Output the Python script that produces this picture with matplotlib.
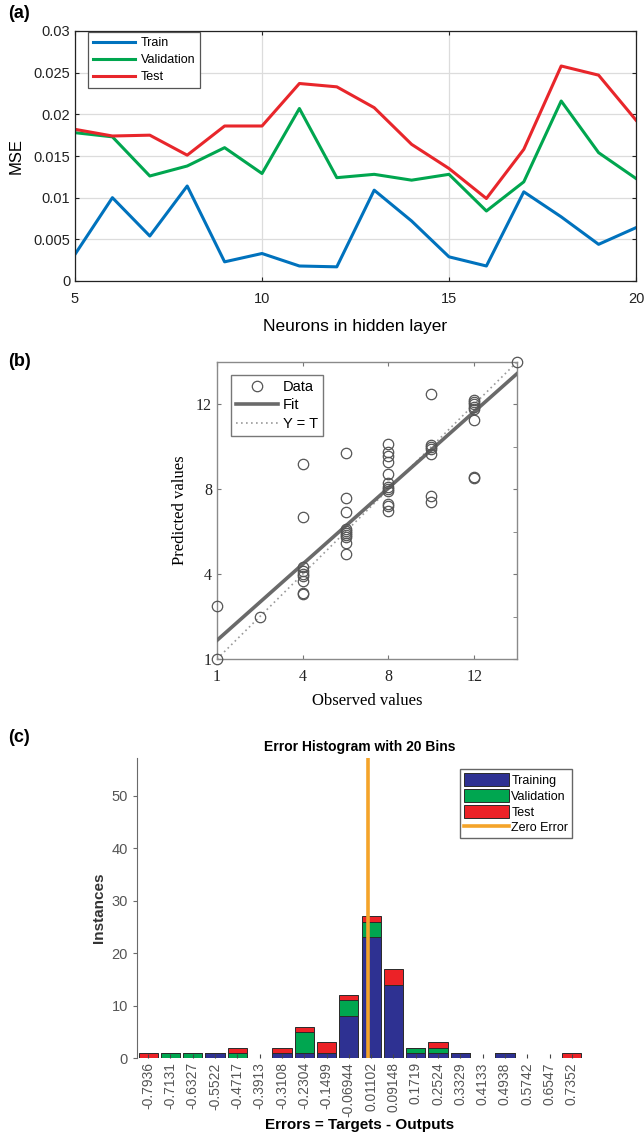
import numpy as np
import matplotlib
matplotlib.use("Agg")
import matplotlib.pyplot as plt
from matplotlib.patches import Patch
from matplotlib.lines import Line2D

# ---------------- data: panel (a) ----------------
neurons = [5, 6, 7, 8, 9, 10, 11, 12, 13, 14, 15, 16, 17, 18, 19, 20]
mse_train = [0.0032, 0.0100, 0.0054, 0.0114, 0.0023, 0.0033, 0.0018, 0.0017,
             0.0109, 0.0072, 0.0029, 0.0018, 0.0107, 0.0077, 0.0044, 0.0064]
mse_val = [0.0178, 0.0173, 0.0126, 0.0138, 0.0160, 0.0129, 0.0207, 0.0124,
           0.0128, 0.0121, 0.0128, 0.0084, 0.0119, 0.0216, 0.0154, 0.0123]
mse_test = [0.0182, 0.0174, 0.0175, 0.0151, 0.0186, 0.0186, 0.0237, 0.0233,
            0.0208, 0.0164, 0.0135, 0.0099, 0.0158, 0.0258, 0.0247, 0.0193]

# ---------------- data: panel (b) ----------------
obs = [0, 0, 2,
       4, 4, 4, 4, 4, 4, 4, 4, 4,
       6, 6, 6, 6, 6, 6, 6, 6, 6, 6,
       8, 8, 8, 8, 8, 8, 8, 8, 8, 8, 8, 8,
       10, 10, 10, 10, 10, 10, 10,
       12, 12, 12, 12, 12, 12, 12, 12,
       14]
pred = [0.0, 2.5, 2.0,
        9.2, 6.7, 4.35, 4.15, 4.0, 3.9, 3.7, 3.12, 3.08,
        9.7, 7.6, 6.95, 6.15, 6.05, 5.95, 5.85, 5.75, 5.48, 4.97,
        10.15, 9.78, 9.56, 9.3, 8.7, 8.3, 8.1, 8.0, 7.9, 7.3, 7.2, 6.98,
        12.5, 10.1, 10.0, 9.9, 9.65, 7.7, 7.42,
        12.2, 12.1, 12.0, 11.9, 11.8, 11.25, 8.6, 8.55,
        14.0]
fit_x = [0, 14]
fit_y = [0.88, 13.45]
ident_x = [0, 14]
ident_y = [0, 14]
b_tick_pos = [0, 4, 8, 12]
b_tick_lab = ["1", "4", "8", "12"]

# ---------------- data: panel (c) ----------------
bin_labels = ["-0.7936", "-0.7131", "-0.6327", "-0.5522", "-0.4717", "-0.3913",
              "-0.3108", "-0.2304", "-0.1499", "-0.06944", "0.01102", "0.09148",
              "0.1719", "0.2524", "0.3329", "0.4133", "0.4938", "0.5742",
              "0.6547", "0.7352"]
bin_centers = [float(s) for s in bin_labels]
h_train = [0, 0, 0, 1, 0, 0, 1, 1, 1, 8, 23, 14, 1, 1, 1, 0, 1, 0, 0, 0]
h_val   = [0, 1, 1, 0, 1, 0, 0, 4, 0, 3, 3, 0, 1, 1, 0, 0, 0, 0, 0, 0]
h_test  = [1, 0, 0, 0, 1, 0, 1, 1, 2, 1, 1, 3, 0, 1, 0, 0, 0, 0, 0, 1]

W, H = 644, 1134
fig = plt.figure(figsize=(W / 100, H / 100), dpi=100)

def rect(l, t, r, b):
    return [l / W, 1 - b / H, (r - l) / W, (b - t) / H]

SANS = ["Liberation Sans", "DejaVu Sans"]
SERIF = ["Liberation Serif", "DejaVu Serif"]

# ================= panel (a) =================
ax = fig.add_axes(rect(75, 31, 636, 281))
ax.plot(neurons, mse_train, color="#0072BD", lw=2.2, label="Train")
ax.plot(neurons, mse_val, color="#00A64F", lw=2.2, label="Validation")
ax.plot(neurons, mse_test, color="#E8262B", lw=2.2, label="Test")
ax.set_xlim(5, 20)
ax.set_ylim(0, 0.03)
ax.set_xticks([5, 10, 15, 20])
ax.set_yticks([0, 0.005, 0.01, 0.015, 0.02, 0.025, 0.03])
ax.set_yticklabels(["0", "0.005", "0.01", "0.015", "0.02", "0.025", "0.03"])
ax.grid(True, color="#dcdcdc", lw=0.9)
ax.set_axisbelow(True)
ax.tick_params(direction="in", top=True, right=True, length=3, labelsize=10.5,
               colors="#222222")
ax.tick_params(axis="x", pad=8)
for lab in ax.get_xticklabels() + ax.get_yticklabels():
    lab.set_family(SANS)
for s in ax.spines.values():
    s.set_color("#222222")
    s.set_linewidth(0.9)
ax.set_xlabel("Neurons in hidden layer", family=SANS, fontsize=12.5, labelpad=9)
ax.set_ylabel("MSE", family=SANS, fontsize=12, labelpad=7)
leg = ax.legend(loc="upper left", bbox_to_anchor=(12 / 561, 1.0),
                borderaxespad=0.1, fancybox=False, prop={"family": SANS, "size": 9},
                handlelength=3.3, labelspacing=0.4, handletextpad=0.5,
                framealpha=1)
leg.get_frame().set_edgecolor("#555555")
leg.get_frame().set_linewidth(0.9)
fig.text(8 / W, 1 - 14 / H, "(a)", family=SANS, fontsize=13, fontweight="bold",
         va="center", ha="left")

# ================= panel (b) =================
bx = fig.add_axes(rect(217, 362, 517, 659))
bx.plot(ident_x, ident_y, ls=(0, (1, 2)), color="#9a9a9a", lw=1.2, label="Y = T", zorder=2)
bx.plot(fit_x, fit_y, color="#6a6a6a", lw=2.6, label="Fit", zorder=3)
bx.plot(obs, pred, ls="none", marker="o", ms=7.5, mfc="none", mec="#555555",
        mew=0.9, label="Data", zorder=4, clip_on=False)
bx.set_xlim(0, 14)
bx.set_ylim(0, 14)
bx.set_xticks(b_tick_pos)
bx.set_xticklabels(b_tick_lab)
bx.set_yticks(b_tick_pos)
bx.set_yticklabels(b_tick_lab)
bx.set_yticks([2, 6, 10], minor=True)
bx.tick_params(which="major", direction="in", top=True, right=True, length=3,
               labelsize=11.5, colors="#777777", labelcolor="#222222")
bx.tick_params(axis="x", pad=7)
bx.tick_params(which="minor", direction="in", left=False, right=True, length=3,
               colors="#777777")
for lab in bx.get_xticklabels() + bx.get_yticklabels():
    lab.set_family(SERIF)
for s in bx.spines.values():
    s.set_color("#8a8a8a")
    s.set_linewidth(1.0)
bx.set_xlabel("Observed values", family=SERIF, fontsize=12, labelpad=6)
bx.set_ylabel("Predicted values", family=SERIF, fontsize=12, labelpad=6)
h1 = Line2D([], [], ls="none", marker="o", ms=7.5, mfc="none", mec="#555555", mew=0.9)
h2 = Line2D([], [], color="#6a6a6a", lw=2.6)
h3 = Line2D([], [], ls=(0, (1, 2)), color="#9a9a9a", lw=1.2)
legb = bx.legend([h1, h2, h3], ["Data", "Fit", "Y = T"], loc="upper left",
                 bbox_to_anchor=(14 / 300, 1 - 13 / 297), borderaxespad=0,
                 fancybox=False, prop={"family": SANS, "size": 10.5},
                 handlelength=2.9, labelspacing=0.3, handletextpad=0.3,
                 borderpad=0.35, framealpha=1)
legb.get_frame().set_edgecolor("#777777")
legb.get_frame().set_linewidth(1.0)
fig.text(8 / W, 1 - 362 / H, "(b)", family=SANS, fontsize=13, fontweight="bold",
         va="center", ha="left")

# ================= panel (c) =================
cx = fig.add_axes(rect(137, 758, 583, 1058))
step = bin_centers[1] - bin_centers[0]
bw = step * 0.86
c_blue, c_green, c_red = "#2E3192", "#00A650", "#EC2227"
tr = np.array(h_train)
va = np.array(h_val)
te = np.array(h_test)
cx.bar(bin_centers, tr, width=bw, color=c_blue, edgecolor="#2a2a2a", lw=0.7)
cx.bar(bin_centers, va, width=bw, bottom=tr, color=c_green, edgecolor="#2a2a2a", lw=0.7)
cx.bar(bin_centers, te, width=bw, bottom=tr + va, color=c_red, edgecolor="#2a2a2a", lw=0.7)
cx.axvline(0, color="#F4A42A", lw=2.6)
cx.set_xlim(bin_centers[0] - step / 2, bin_centers[-1] + step / 2)
cx.set_ylim(0, 57.2)
cx.set_xticks(bin_centers)
cx.set_xticklabels(bin_labels, rotation=90)
cx.set_yticks([0, 10, 20, 30, 40, 50])
for sp in ["top", "right", "bottom"]:
    cx.spines[sp].set_visible(False)
cx.spines["left"].set_color("#6a6a6a")
cx.tick_params(axis="y", direction="out", length=3, labelsize=10.5,
               colors="#6a6a6a", labelcolor="#555555")
cx.tick_params(axis="x", direction="in", length=3, labelsize=10,
               colors="#444444", labelcolor="#555555", pad=3)
for lab in cx.get_xticklabels() + cx.get_yticklabels():
    lab.set_family(SANS)
cx.set_title("Error Histogram with 20 Bins", family=SANS, fontsize=10,
             fontweight="bold", pad=5)
cx.set_xlabel("Errors = Targets - Outputs", family=SANS, fontsize=11,
              fontweight="bold", labelpad=1)
cx.set_ylabel("Instances", family=SANS, fontsize=11, fontweight="bold",
              color="#333333", labelpad=4)
hc = [Patch(facecolor=c_blue, edgecolor="#2a2a2a", lw=0.7),
      Patch(facecolor=c_green, edgecolor="#2a2a2a", lw=0.7),
      Patch(facecolor=c_red, edgecolor="#2a2a2a", lw=0.7),
      Line2D([], [], color="#F4A42A", lw=2.6)]
legc = cx.legend(hc, ["Training", "Validation", "Test", "Zero Error"],
                 loc="upper right", bbox_to_anchor=(1 - 11 / 446, 1 - 11 / 300),
                 borderaxespad=0, fancybox=False,
                 prop={"family": SANS, "size": 9}, handlelength=3.6,
                 handleheight=1.3, labelspacing=0.15, handletextpad=0.2,
                 borderpad=0.3, framealpha=1)
legc.get_frame().set_edgecolor("#666666")
legc.get_frame().set_linewidth(1.0)
fig.text(8 / W, 1 - 737 / H, "(c)", family=SANS, fontsize=13, fontweight="bold",
         va="center", ha="left")

fig.savefig("out.png", dpi=100)
